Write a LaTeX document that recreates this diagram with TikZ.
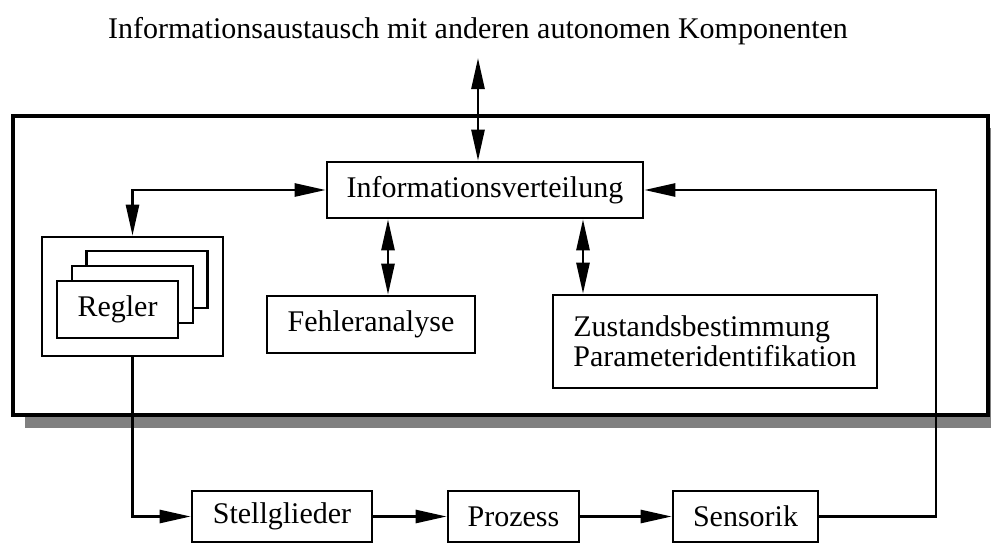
\documentclass[tikz,border=0pt]{standalone}
\usepackage{fontspec}
\setmainfont{Liberation Serif}
\usetikzlibrary{arrows.meta,calc}
\begin{document}
\begin{tikzpicture}[x=1pt,y=-1pt,
  >={Triangle[length=31pt,width=13pt]},
  every node/.style={font=\fontsize{30}{30}\selectfont, inner sep=0pt},
  box/.style={draw, line width=2.6pt, fill=white},
  conn/.style={line width=2.6pt},
  frame/.style={draw, line width=4.5pt, fill=white},
  shadow/.style={fill=black!50}]
\useasboundingbox (0,0) rectangle (991,544);

% outer frame with its drop shadow
\fill[shadow] (25,128) rectangle (1000,428);
\draw[frame] (13,116) rectangle (988,415);

% title
\node[anchor=base] (title) at (478,38) {Informationsaustausch mit anderen autonomen Komponenten};

% blocks inside the frame
\node[box, minimum width=316pt, minimum height=56pt] (iv) at (485,190) {Informationsverteilung};
\node[box, minimum width=208pt, minimum height=57pt] (fa) at (371,324.5) {Fehleranalyse};
\node[box, minimum width=324pt, minimum height=93pt, align=left] (zp) at (715,341.5)
  {Zustandsbestimmung\\Parameteridentifikation};

% controller stack
\node[box, minimum width=181pt, minimum height=119pt] (reg) at (132.5,296.5) {};
\node[box, minimum width=121pt, minimum height=57pt] (card3) at (147,279.5) {};
\node[box, minimum width=121pt, minimum height=57pt] (card2) at (132.5,294.5) {};
\node[box, minimum width=121pt, minimum height=57pt] (card1) at (117.5,309.5) {Regler};

% process chain below the frame
\node[box, minimum width=180pt, minimum height=51pt] (st) at (282,516.5) {Stellglieder};
\node[box, minimum width=131pt, minimum height=51pt] (pr) at (513.5,516.5) {Prozess};
\node[box, minimum width=145pt, minimum height=51pt] (se) at (745.5,516.5) {Sensorik};

% helper coordinates for the connectors
\coordinate (ext) at (478,58);
\coordinate (a1) at (388,0);
\coordinate (a2) at (583,0);
\coordinate (fb) at (936,516.5);

% connectors
\draw[conn,<->] (ext) -- (iv.north -| ext);
\draw[conn,<->] (iv.south -| a1) -- (fa.north -| a1);
\draw[conn,<->] (iv.south -| a2) -- (zp.north -| a2);
\draw[conn,<->] (iv.west) -| (reg.north);
\draw[conn,->] (reg.south) |- (st.west);
\draw[conn,->] (st.east) -- (pr.west);
\draw[conn,->] (pr.east) -- (se.west);
\draw[conn,->] (se.east) -- (fb) |- (iv.east);
\end{tikzpicture}
\end{document}
